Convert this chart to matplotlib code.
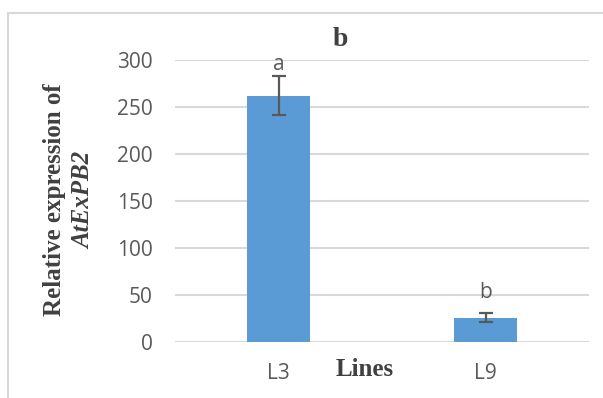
import numpy as np
import matplotlib.pyplot as plt
from matplotlib.patches import Rectangle

lines = ['L3', 'L9']
expression = [262, 26]
err = [21, 4.5]
letters = ['a', 'b']
letter_y = [295, 53]

bar_color = '#5B9BD5'
gray = '#595959'

fig = plt.figure(figsize=(6.03, 3.98), dpi=100)
ax = fig.add_axes([175/603, 56/398, 414/603, 282/398])

x = np.arange(len(lines))
ax.bar(x, expression, width=0.305, color=bar_color, zorder=2)
ax.errorbar(x, expression, yerr=err, fmt='none', ecolor=gray,
            elinewidth=1.6, capsize=5, capthick=1.6, zorder=3)
for xi, lab, yy in zip(x, letters, letter_y):
    ax.text(xi, yy, lab, ha='center', va='center', fontsize=15,
            color=gray, family='Open Sans')

ax.set_xlim(-0.5, 1.5)
ax.set_ylim(0, 300)
ax.set_yticks(range(0, 301, 50))
ax.set_xticks(x)
ax.set_xticklabels(lines)
ax.grid(axis='y', color='#D9D9D9', linewidth=1.5, zorder=0)
ax.set_axisbelow(True)
for s in ax.spines.values():
    s.set_visible(False)
ax.tick_params(length=0, labelsize=15, colors=gray)
ax.tick_params(axis='y', pad=16)
ax.tick_params(axis='x', pad=15)
for t in ax.get_xticklabels() + ax.get_yticklabels():
    t.set_family('Open Sans')

fig.text(340/603, 1 - 40/398, 'b', ha='center', va='center', fontsize=20,
         fontweight='bold', family='Liberation Serif', color='#404040')
fig.text(365/603, 1 - 370/398, 'Lines', ha='center', va='center', fontsize=18,
         fontweight='bold', family='Liberation Serif', color='#404040')
fig.text(55/603, 1 - 200/398, 'Relative expression of', ha='center', va='center',
         rotation=90, fontsize=18, fontweight='bold', family='Liberation Serif',
         color='#404040')
fig.text(84/603, 1 - 200/398, 'AtExPB2', ha='center', va='center',
         rotation=90, fontsize=18, fontweight='bold', style='italic',
         family='Liberation Serif', color='#404040')

fig.patches.append(Rectangle((8/603, -0.1), 1.2, 1.1 - 13/398,
                             transform=fig.transFigure, fill=False,
                             edgecolor='#D9D9D9', linewidth=1.5))

fig.savefig('out.png', dpi=100)
